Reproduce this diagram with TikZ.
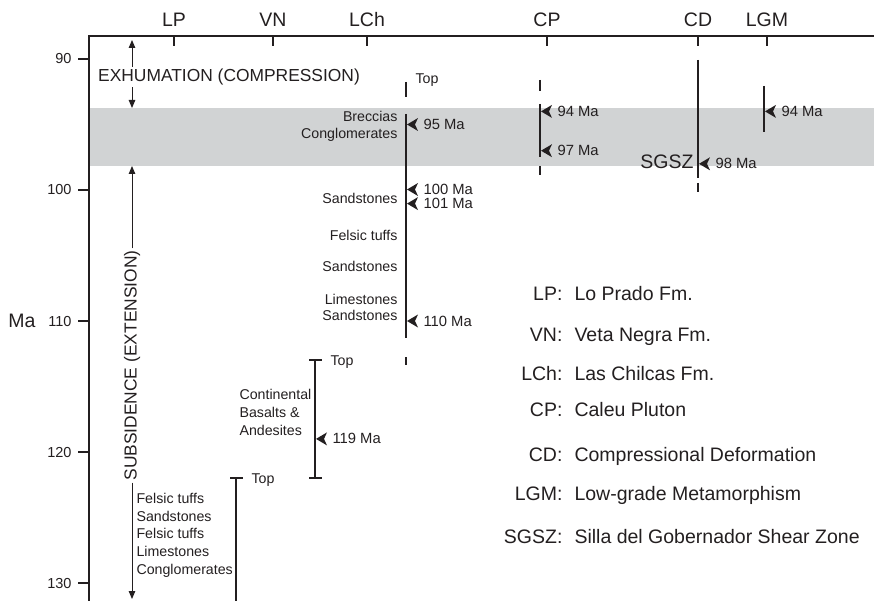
\documentclass[tikz,border=0pt]{standalone}
\usepackage{fontspec}
\setmainfont{Liberation Sans}
\usepackage{tikz}
\usetikzlibrary{arrows.meta}
\definecolor{Ink}{HTML}{231F20}
\definecolor{Band}{HTML}{D1D3D4}
\tikzset{agemk/.pic={\fill (0,0) -- (11,-6.5) -- (8,0) -- (11,6.5) -- cycle;}}

\begin{document}
\begin{tikzpicture}[x=1pt,y=-1pt,line width=1.1pt,color=Ink,
    hd/.style={font=\fontsize{19.5}{22}\selectfont,inner sep=0pt},
    num/.style={font=\fontsize{14.5}{16}\selectfont,inner sep=0pt},
    rock/.style={font=\fontsize{14.2}{16}\selectfont,inner sep=0pt},
    age/.style={font=\fontsize{14.8}{17}\selectfont,inner sep=0pt,anchor=west},
    big/.style={font=\fontsize{17.4}{19}\selectfont,inner sep=1.5pt},
    tip/.style={-{Triangle[length=8pt,width=6.5pt]},line width=1pt}]
  \useasboundingbox (0,0) rectangle (874,601);
  % band 94-98 Ma
  \fill[Band] (89,108) rectangle (874,166);
  % axes
  \draw (89,601) -- (89,36) -- (874,36);
  \foreach \v/\y in {90/59,100/190,110/321,120/452,130/583} {
    \draw (78,\y) -- (89,\y);
    \node[num,anchor=base east] (t\v) at (72,\y+5) {\v};
  }
  \node[hd] (ma) at (22,321) {Ma};
  \foreach \n/\x in {LP/174,VN/273,LCh/367,CP/547,CD/698,LGM/767} {
    \draw (\x,36) -- (\x,46);
    \node[hd,anchor=base] (h\n) at (\x,26.5) {\n};
  }
  % exhumation / subsidence
  \node[big] (exh) at (229,77) {EXHUMATION (COMPRESSION)};
  \coordinate (exT) at (132,40);
  \coordinate (exB) at (132,108);
  \draw[tip] (exh.north -| exT) -- (exT);
  \draw[tip] (exh.south -| exB) -- (exB);
  \node[big,rotate=90] (sub) at (132,365.5) {SUBSIDENCE (EXTENSION)};
  \coordinate (sbT) at (132,166);
  \coordinate (sbB) at (132,599);
  \draw[tip] (sub.east) -- (sbT);
  \draw[tip] (sub.west) -- (sbB);
  % LP
  \draw (236,478) -- (236,601);
  \draw (230,478) -- (243,478);
  \node[rock,anchor=base west] (lpTop) at (251,483) {Top};
  \foreach \y/\t in {498/Felsic tuffs,516/Sandstones,533/Felsic tuffs,551/Limestones,569/Conglomerates}
    \node[rock,anchor=base west] (lp\y) at (136,\y+5) {\t};
  % VN
  \draw (315,360) -- (315,478);
  \draw (309,360) -- (322,360);
  \draw (309,478) -- (322,478);
  \node[rock,anchor=base west] (vnTop) at (330,365) {Top};
  \foreach \y/\t in {394/Continental,412/Basalts \&,430/Andesites}
    \node[rock,anchor=base west] (vn\y) at (239,\y+5) {\t};
  % LCh
  \draw (406,82) -- (406,97);
  \draw (406,114) -- (406,338);
  \draw (406,357) -- (406,365);
  \node[rock,anchor=base west] (lchTop) at (415,84) {Top};
  \foreach \y/\t in {117/Breccias,134/Conglomerates,199/Sandstones,236/Felsic tuffs,267/Sandstones,299/Limestones,315/Sandstones}
    \node[rock,anchor=base east] (lch\y) at (398,\y+5) {\t};
  % CP
  \draw (540,80) -- (540,91);
  \draw (540,104) -- (540,157);
  \draw (540,166) -- (540,175);
  % CD
  \draw (698,60) -- (698,178);
  \draw (698,183) -- (698,192);
  \node[hd,anchor=east] (sgsz) at (694,162) {SGSZ};
  % LGM
  \draw (764,86) -- (764,132);
  % ages
  \foreach \x/\y/\a in {406/124.5/95,406/189.5/100,406/203.6/101,406/321/110,315/438.9/119,
                        540/111.4/94,540/150.7/97,698/163.8/98,764/111.4/94} {
    \pic at (\x+1,\y) {agemk};
    \node[age] (m\x-\a) at (\x+17,\y) {\a~Ma};
  }
  % key
  \foreach \y/\k/\t in {293/LP/Lo Prado Fm.,334/VN/Veta Negra Fm.,373/LCh/Las Chilcas Fm.,
                        409/CP/Caleu Pluton,454/CD/Compressional Deformation,
                        493/LGM/Low-grade Metamorphism,536/SGSZ/Silla del Gobernador Shear Zone} {
    \node[hd,anchor=base east] (k\k) at (563,\y+7) {\k:};
    \node[hd,anchor=base west] (d\k) at (574,\y+7) {\t};
  }
\end{tikzpicture}
\end{document}
